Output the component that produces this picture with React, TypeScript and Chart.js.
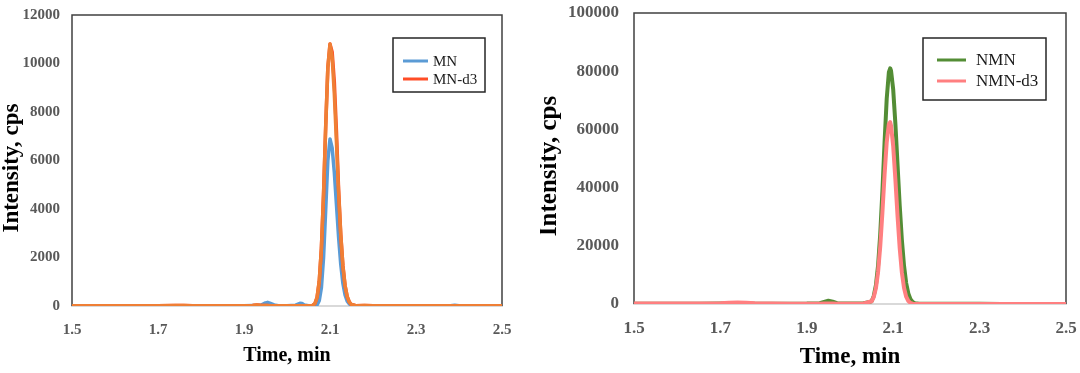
import React, { useEffect, useRef } from "react";
import { Chart, registerables } from "chart.js";

Chart.register(...registerables);

// ---------- data ----------
const xTickValues = [1.5, 1.7, 1.9, 2.1, 2.3, 2.5];

const timesLeft = [
  1.5, 1.55, 1.6, 1.65, 1.7, 1.74, 1.76, 1.78, 1.82, 1.86,
  1.9, 1.92, 1.93, 1.94, 1.95, 1.955, 1.96, 1.97, 1.98, 2.0,
  2.02, 2.03, 2.035, 2.04, 2.05, 2.06, 2.065, 2.07, 2.075, 2.08,
  2.085, 2.09, 2.095, 2.1, 2.105, 2.11, 2.115, 2.12, 2.125, 2.13,
  2.135, 2.14, 2.145, 2.15, 2.16, 2.18, 2.2, 2.25, 2.3, 2.35,
  2.38, 2.39, 2.4, 2.45, 2.5,
];
const mnValues = [
  10, 12, 10, 12, 10, 12, 15, 12, 10, 12,
  15, 20, 25, 40, 130, 150, 120, 45, 15, 10,
  35, 110, 100, 45, 10, 8, 15, 47, 216, 750,
  1980, 3960, 6000, 6890, 6520, 5520, 4180, 2830, 1720, 930,
  453, 196, 80, 30, 12, 10, 8, 10, 8, 10,
  12, 35, 10, 8, 10,
];
const mnD3Values = [
  15, 15, 12, 15, 12, 18, 25, 15, 12, 15,
  15, 20, 40, 25, 20, 18, 15, 15, 12, 10,
  12, 15, 12, 12, 10, 25, 105, 360, 1020, 2380,
  4610, 7400, 9830, 10800, 10480, 9250, 7200, 4800, 2940, 1660,
  845, 385, 160, 60, 15, 20, 12, 15, 12, 12,
  10, 10, 12, 10, 12,
];
const mnD3OverlayValues = [
  15, 15, 12, 15, 12, 18, 25, 15, 12, 15,
  15, 20, 40, 25, 20, 18, 15, 15, 12, 10,
  12, 15, 12, 12, 10, 25, 105, 360, 1020, 2380,
  4610, 7400, 9830, 10800, 10250, 8770, 6760, 4690, 2940, 1660,
  845, 385, 160, 60, 15, 20, 12, 15, 12, 12,
  10, 10, 12, 10, 12,
];

const timesRight = [
  1.5, 1.55, 1.6, 1.65, 1.7, 1.72, 1.74, 1.76, 1.78, 1.82,
  1.86, 1.9, 1.93, 1.94, 1.95, 1.96, 1.97, 2.0, 2.03, 2.05,
  2.055, 2.06, 2.065, 2.07, 2.075, 2.08, 2.085, 2.09, 2.093, 2.095,
  2.1, 2.105, 2.11, 2.115, 2.12, 2.125, 2.13, 2.135, 2.14, 2.145,
  2.15, 2.16, 2.18, 2.2, 2.25, 2.3, 2.35, 2.4, 2.45, 2.5,
];
const nmnValues = [
  100, 100, 120, 100, 150, 200, 200, 180, 120, 100,
  120, 150, 300, 700, 1100, 800, 300, 150, 150, 900,
  2790, 6460, 13200, 24000, 38700, 55500, 70600, 79700, 81000, 80200,
  73700, 62100, 48000, 34000, 22100, 13200, 7200, 3600, 1660, 700,
  270, 60, 80, 60, 50, 50, 40, 40, 40, 40,
];
const nmnD3Values = [
  150, 150, 150, 200, 300, 450, 500, 450, 300, 150,
  120, 100, 120, 150, 200, 150, 120, 100, 100, 940,
  2400, 5450, 11000, 19800, 31400, 44400, 55600, 61900, 62500, 61300,
  54200, 42900, 30400, 19300, 10900, 5560, 2520, 1030, 375, 130,
  40, 20, 20, 20, 20, 20, 20, 20, 20, 20,
];

// ---------- styling ----------
const SERIF = '"Liberation Serif", "Times New Roman", serif';
const TICK_COLOR = "#595959";

const pts = (xs: number[], ys: number[]) => xs.map((x, i) => ({ x, y: ys[i] }));

const panelDecor = {
  id: "panelDecor",
  beforeDatasetsDraw(chart: any) {
    const { ctx, chartArea } = chart;
    const { left, top, right, bottom } = chartArea;
    ctx.save();
    ctx.strokeStyle = "#404040";
    ctx.lineWidth = 1.5;
    ctx.beginPath();
    ctx.moveTo(left, bottom);
    ctx.lineTo(left, top);
    ctx.lineTo(right, top);
    ctx.lineTo(right, bottom);
    ctx.stroke();
    ctx.restore();
  },
  afterDraw(chart: any, _args: any, opts: any) {
    const { ctx, chartArea } = chart;
    // y title
    ctx.save();
    ctx.translate(opts.yTitleX, opts.yTitleY);
    ctx.rotate(-Math.PI / 2);
    ctx.font = `bold ${opts.yTitleSize}px ${SERIF}`;
    ctx.fillStyle = "#000";
    ctx.textAlign = "center";
    ctx.textBaseline = "middle";
    ctx.fillText(opts.yTitle, 0, 0);
    ctx.restore();

    // legend box
    const L = opts.legend;
    const bx = chartArea.right - L.right - L.width;
    const by = chartArea.top + L.top;
    ctx.save();
    ctx.fillStyle = "#fff";
    ctx.fillRect(bx, by, L.width, L.height);
    ctx.strokeStyle = "#262626";
    ctx.lineWidth = 1.5;
    ctx.strokeRect(bx, by, L.width, L.height);
    const items = chart.data.datasets.filter((d: any) => d.inLegend !== false);
    ctx.font = `${L.fontSize}px ${SERIF}`;
    ctx.textBaseline = "middle";
    ctx.textAlign = "left";
    items.forEach((d: any, i: number) => {
      const y = by + L.rows[i];
      ctx.strokeStyle = d.borderColor;
      ctx.lineWidth = 3;
      ctx.beginPath();
      ctx.moveTo(bx + L.lineStart, y);
      ctx.lineTo(bx + L.lineEnd, y);
      ctx.stroke();
      ctx.fillStyle = "#1a1a1a";
      ctx.fillText(d.label, bx + L.textX, y + 1);
    });
    ctx.restore();
  },
};

function makeChart(canvas: HTMLCanvasElement, cfg: any) {
  return new Chart(canvas, {
    type: "line",
    data: { datasets: cfg.datasets },
    options: {
      responsive: false,
      animation: false,
      devicePixelRatio: 1,
      layout: { padding: { left: 0, right: cfg.padRight, top: cfg.padTop, bottom: 0 } },
      elements: {
        point: { radius: 0 },
        line: { tension: 0, borderJoinStyle: "round", borderCapStyle: "round" },
      },
      plugins: {
        legend: { display: false },
        tooltip: { enabled: false },
        panelDecor: cfg.decor,
      } as any,
      scales: {
        x: {
          type: "linear",
          min: 1.5,
          max: 2.5,
          afterBuildTicks: (s: any) => {
            s.ticks = xTickValues.map((v) => ({ value: v }));
          },
          afterFit: (s: any) => {
            s.height = cfg.xAxisHeight;
            s.paddingLeft = 0;
            s.paddingRight = 0;
          },
          grid: { display: false, drawTicks: false },
          border: { display: true, color: "#d9d9d9", width: 2 },
          ticks: {
            autoSkip: false,
            maxRotation: 0,
            padding: cfg.xTickPad,
            color: TICK_COLOR,
            font: { family: SERIF, size: cfg.tickSize, weight: "bold" },
            callback: (v: any) => Number(v).toFixed(1),
          },
          title: {
            display: true,
            text: "Time, min",
            color: "#000",
            font: { family: SERIF, size: cfg.xTitleSize, weight: "bold", lineHeight: 1 },
            padding: { top: 0, bottom: cfg.xTitlePad },
          },
        },
        y: {
          type: "linear",
          min: 0,
          max: cfg.yMax,
          afterFit: (s: any) => {
            s.width = cfg.yAxisWidth;
            s.paddingTop = 0;
            s.paddingBottom = 0;
          },
          grid: { display: false, drawTicks: false },
          border: { display: false },
          ticks: {
            stepSize: cfg.yStep,
            padding: cfg.yTickPad,
            color: TICK_COLOR,
            font: { family: SERIF, size: cfg.tickSize, weight: "bold" },
            callback: (v: any) => String(v),
          },
        },
      },
    } as any,
    plugins: [panelDecor as any],
  });
}

export default function App() {
  const leftRef = useRef<HTMLCanvasElement>(null);
  const rightRef = useRef<HTMLCanvasElement>(null);

  useEffect(() => {
    const left = makeChart(leftRef.current!, {
      padRight: 38,
      padTop: 15,
      xAxisHeight: 67,
      yAxisWidth: 72,
      xTickPad: 15,
      yTickPad: 12,
      tickSize: 15,
      xTitleSize: 20,
      xTitlePad: 7,
      yMax: 12000,
      yStep: 2000,
      datasets: [
        { label: "MN", data: pts(timesLeft, mnValues), borderColor: "#5b9bd5", borderWidth: 3.5, order: 3 },
        { label: "MN-d3", data: pts(timesLeft, mnD3Values), borderColor: "#ff4d26", borderWidth: 3.5, order: 2 },
        { label: "MN-d3", inLegend: false, data: pts(timesLeft, mnD3OverlayValues), borderColor: "#ef7f35", borderWidth: 3.5, order: 1 },
      ],
      decor: {
        yTitle: "Intensity, cps",
        yTitleX: 12,
        yTitleY: 168,
        yTitleSize: 23,
        legend: { right: 17, top: 23, width: 92, height: 54, rows: [23, 41], lineStart: 10, lineEnd: 35, textX: 40, fontSize: 15 },
      },
    });
    const right = makeChart(rightRef.current!, {
      padRight: 14,
      padTop: 13,
      xAxisHeight: 69,
      yAxisWidth: 94,
      xTickPad: 14,
      yTickPad: 15,
      tickSize: 17,
      xTitleSize: 23,
      xTitlePad: 4,
      yMax: 100000,
      yStep: 20000,
      datasets: [
        { label: "NMN", data: pts(timesRight, nmnValues), borderColor: "#538d35", borderWidth: 4, order: 2 },
        { label: "NMN-d3", data: pts(timesRight, nmnD3Values), borderColor: "#ff7f80", borderWidth: 4, order: 1 },
      ],
      decor: {
        yTitle: "Intensity, cps",
        yTitleX: 10,
        yTitleY: 166,
        yTitleSize: 25,
        legend: { right: 20, top: 25, width: 123, height: 62, rows: [22, 43], lineStart: 14, lineEnd: 43, textX: 53, fontSize: 17 },
      },
    });
    return () => {
      left.destroy();
      right.destroy();
    };
  }, []);

  return (
    <div style={{ position: "absolute", left: 0, top: 0, width: 1080, height: 373, display: "flex", background: "#fff" }}>
      <canvas ref={leftRef} width={540} height={373} style={{ display: "block" }} />
      <canvas ref={rightRef} width={540} height={373} style={{ display: "block" }} />
    </div>
  );
}
